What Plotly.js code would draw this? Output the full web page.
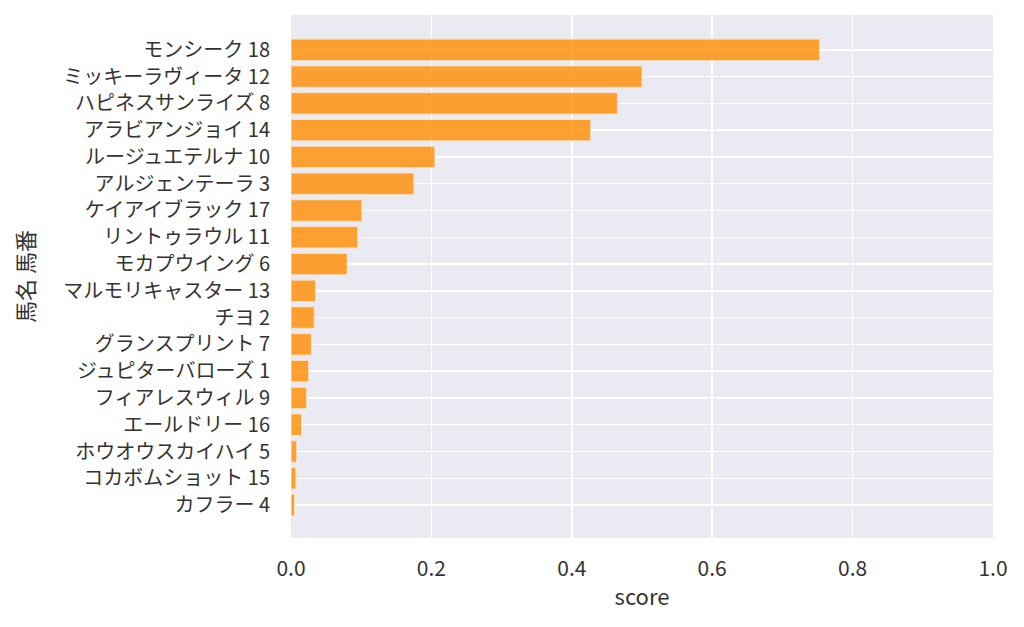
<!DOCTYPE html>
<html>
<head>
<meta charset="utf-8">
<script src="https://cdn.plot.ly/plotly-3.0.1.min.js"></script>
<style>
  body { margin: 0; background: #fff; }
  #chart { width: 1024px; height: 627px; }
</style>
</head>
<body>
<div id="chart"></div>
<script>
// horse name + number, top to bottom
const horses = [
  'モンシーク 18', 'ミッキーラヴィータ 12', 'ハピネスサンライズ 8', 'アラビアンジョイ 14',
  'ルージュエテルナ 10', 'アルジェンテーラ 3', 'ケイアイブラック 17', 'リントゥラウル 11',
  'モカプウイング 6', 'マルモリキャスター 13', 'チヨ 2', 'グランスプリント 7',
  'ジュピターバローズ 1', 'フィアレスウィル 9', 'エールドリー 16', 'ホウオウスカイハイ 5',
  'コカボムショット 15', 'カフラー 4'
];
const scores = [
  0.753, 0.500, 0.465, 0.427, 0.205, 0.175, 0.101, 0.095, 0.080,
  0.035, 0.033, 0.029, 0.025, 0.022, 0.015, 0.008, 0.007, 0.005
];
const xTicks = [0, 0.2, 0.4, 0.6, 0.8, 1.0];

const font = '"Noto Sans CJK JP", "Noto Sans", sans-serif';

const trace = {
  type: 'bar',
  orientation: 'h',
  y: horses,
  x: scores,
  width: 0.8,
  marker: {
    color: 'rgba(255,140,0,0.8)',
    line: { color: 'rgba(255,225,190,1)', width: 1 }
  },
  hoverinfo: 'x+y'
};

const layout = {
  width: 1024,
  height: 627,
  margin: { l: 291, r: 31, t: 15, b: 89 },
  paper_bgcolor: '#ffffff',
  plot_bgcolor: '#eaeaf2',
  font: { family: font, size: 20, color: '#333333' },
  showlegend: false,
  bargap: 0.2,
  xaxis: {
    range: [0, 1],
    tickvals: xTicks,
    tickformat: '.1f',
    showgrid: true,
    gridcolor: '#ffffff',
    gridwidth: 1.5,
    zeroline: false,
    showline: false,
    ticks: 'outside',
    ticklen: 12,
    tickcolor: 'rgba(0,0,0,0)',
    tickfont: { size: 21 },
    title: { text: 'score', font: { size: 22 }, standoff: 8 }
  },
  yaxis: {
    type: 'category',
    categoryorder: 'array',
    categoryarray: horses,
    range: [18.23, -1.3],
    showgrid: true,
    gridcolor: '#ffffff',
    gridwidth: 1.5,
    zeroline: false,
    showline: false,
    ticks: 'outside',
    ticklen: 16,
    tickcolor: 'rgba(0,0,0,0)',
    tickfont: { size: 20 },
    title: { text: '馬名 馬番', font: { size: 22 }, standoff: 22 }
  }
};

Plotly.newPlot('chart', [trace], layout, { displayModeBar: false, staticPlot: true });
</script>
</body>
</html>
